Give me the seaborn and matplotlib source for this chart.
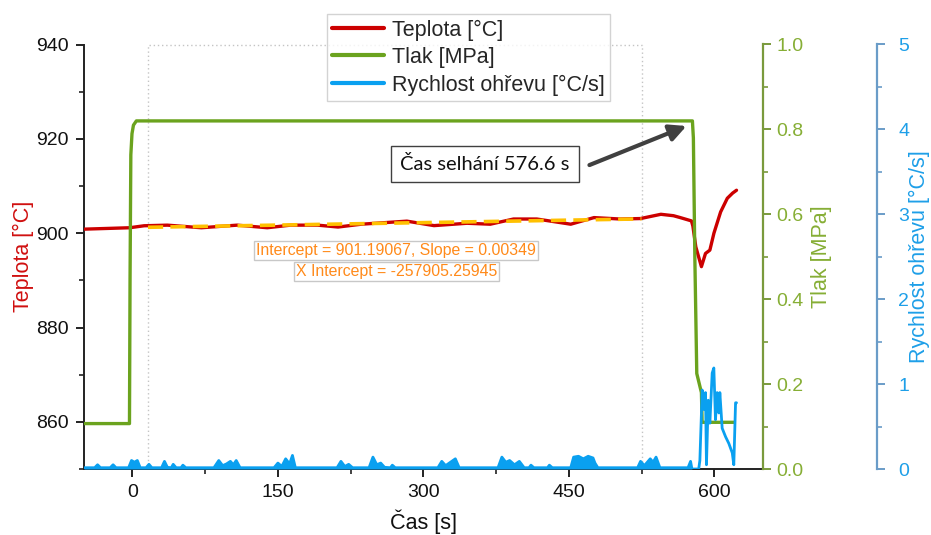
import numpy as np
import pandas as pd
import matplotlib
matplotlib.use("Agg")
import matplotlib.pyplot as plt
import seaborn as sns
from matplotlib.ticker import MultipleLocator

# ---------------- data ----------------
temp_t = [-50, -3, 12, 36, 71, 108, 139, 163, 191, 212, 236, 258, 283, 311, 345, 369,
          393, 417, 452, 476, 503, 524, 545, 558, 565, 576.5, 578, 581, 586.8, 591,
          595.5, 599.7, 606.6, 613.5, 619, 623]
temp_v = [900.85, 901.15, 901.57, 901.7, 901.15, 901.7, 901.15, 901.7, 901.7, 901.3,
          901.9, 902.2, 902.55, 901.6, 902.1, 901.9, 903.0, 903.0, 901.9, 903.3, 903.0,
          903.1, 904.0, 903.7, 903.3, 902.6, 901.5, 897.1, 892.9, 895.7, 896.4, 900.0,
          904.5, 907.4, 908.5, 909.1]

press_t = [-50, -3.1, -2.5, -1.7, -0.5, 1, 4, 577.5, 578.5, 580, 582, 586.8, 587.5, 620.5]
press_v = [0.107, 0.107, 0.45, 0.74, 0.79, 0.81, 0.82, 0.82, 0.78, 0.50, 0.225, 0.18, 0.11, 0.11]

rate_t = [-50, -39, -36, -33, -23, -20, -17, -4, -1, 2, 5, 8, 10, 14, 17, 20, 30, 33, 36,
          40, 42, 45, 50, 52, 55, 84, 89, 93, 97, 101, 104, 107, 111, 146, 150, 154, 158,
          162, 165, 168, 211, 215, 219, 223, 227, 244, 248, 252, 256, 260, 266, 268, 271,
          315, 319, 323, 328, 333, 337, 377, 381, 385, 389, 394, 399, 404, 409, 411, 414,
          428, 430, 433, 452, 455, 460, 465, 470, 475, 477, 480, 521, 524, 528, 534, 537,
          540, 544, 573, 575.6, 577, 584, 585.2, 587.6, 589.3, 591, 592, 592.8, 593.8,
          595.5, 597.9, 599.6, 601.3, 603, 604.8, 605.8, 608.2, 611.7, 615.1, 618.6,
          620.2, 622, 623]
rate_v = [0.015, 0.015, 0.05, 0.015, 0.015, 0.05, 0.015, 0.015, 0.1, 0.08, 0.1, 0.015,
          0.015, 0.015, 0.055, 0.015, 0.015, 0.09, 0.02, 0.015, 0.055, 0.015, 0.015, 0.045,
          0.015, 0.015, 0.1, 0.04, 0.06, 0.09, 0.05, 0.1, 0.015, 0.015, 0.07, 0.03, 0.12,
          0.06, 0.16, 0.015, 0.015, 0.09, 0.03, 0.055, 0.015, 0.015, 0.14, 0.05, 0.07, 0.02,
          0.015, 0.045, 0.015, 0.015, 0.09, 0.04, 0.08, 0.12, 0.015, 0.015, 0.14, 0.08, 0.1,
          0.05, 0.09, 0.015, 0.015, 0.045, 0.015, 0.015, 0.045, 0.015, 0.015, 0.14, 0.15,
          0.12, 0.15, 0.13, 0.07, 0.015, 0.015, 0.09, 0.04, 0.12, 0.08, 0.14, 0.015, 0.015,
          0.09, 0.0, 0.0, 0.1, 0.93, 0.7, 0.9, 0.05, 0.38, 0.81, 0.54, 1.13, 1.19, 0.58,
          0.9, 0.66, 0.9, 0.48, 0.38, 0.3, 0.19, 0.05, 0.78, 0.78]

fit_range = [16, 525]
fit_intercept = 901.19067
fit_slope = 0.00349
fail_time = 576.6

x_ticks = [0, 150, 300, 450, 600]
temp_ticks = [860, 880, 900, 920, 940]
press_ticks = [0.0, 0.2, 0.4, 0.6, 0.8, 1.0]
rate_ticks = [0, 1, 2, 3, 4, 5]

# ---------------- style ----------------
sns.set_style("ticks")
plt.rcParams['font.family'] = ['Liberation Sans', 'DejaVu Sans']

RED = '#CC0000'
GREEN = '#6BA31E'
BLUE = '#0AA0F0'
ORANGE_LINE = '#FFC000'
ORANGE_TXT = '#FF8A1A'
GREEN_AX = '#7A9A3C'
GREEN_LBL = '#86AE35'
BLUE_AX = '#6A9CC8'
BLUE_LBL = '#1E9FE8'
TICK_FS = 14
LABEL_FS = 15.5

fig = plt.figure(figsize=(9.31, 5.35), dpi=100)
ax = fig.add_axes([84/931, 1-469/535, (762.7-84)/931, (469-44.5)/535])
ax2 = ax.twinx()
ax3 = ax.twinx()
ax3.spines['right'].set_position(('axes', (877.3-84)/(762.7-84)))

df_t = pd.DataFrame({'t': temp_t, 'v': temp_v})
df_p = pd.DataFrame({'t': press_t, 'v': press_v})
df_r = pd.DataFrame({'t': rate_t, 'v': rate_v})

# dotted fit-range rectangle
ax.plot([fit_range[0], fit_range[0], fit_range[1], fit_range[1]], [850, 940, 940, 850],
        ls=(0, (1, 2)), color='#C4C4C4', lw=1.0, zorder=1, clip_on=False)

sns.lineplot(data=df_t, x='t', y='v', ax=ax, color=RED, lw=2.4, estimator=None,
             sort=False, zorder=3, legend=False)
fit_x = np.array(fit_range, dtype=float)
sns.lineplot(x=fit_x, y=fit_intercept + fit_slope * fit_x, ax=ax, color=ORANGE_LINE,
             lw=2.6, estimator=None, zorder=4, legend=False)
ax.lines[-1].set_dashes([4.2, 2.0])

sns.lineplot(data=df_p, x='t', y='v', ax=ax2, color=GREEN, lw=2.4, estimator=None,
             sort=False, legend=False)
sns.lineplot(data=df_r, x='t', y='v', ax=ax3, color=BLUE, lw=2.0, estimator=None,
             sort=False, legend=False)
base = df_r[df_r['t'] < 580]
ax3.fill_between(base['t'], 0, base['v'], color=BLUE, lw=0)

# limits & ticks
ax.set_xlim(-50, 650)
ax.set_ylim(850, 940)
ax2.set_ylim(0, 1.0)
ax3.set_ylim(0, 5)
ax.set_xticks(x_ticks)
ax.xaxis.set_minor_locator(MultipleLocator(75))
ax.set_yticks(temp_ticks)
ax.yaxis.set_minor_locator(MultipleLocator(10))
ax2.set_yticks(press_ticks)
ax2.set_yticklabels([f"{v:.1f}" for v in press_ticks])
ax2.yaxis.set_minor_locator(MultipleLocator(0.1))
ax3.set_yticks(rate_ticks)
ax3.yaxis.set_minor_locator(MultipleLocator(0.5))

for a in (ax, ax2, ax3):
    a.spines['top'].set_visible(False)
ax.spines['right'].set_visible(False)
for a in (ax2, ax3):
    a.spines['left'].set_visible(False)
    a.spines['bottom'].set_visible(False)

for s in ('left', 'bottom'):
    ax.spines[s].set_color('#222222')
    ax.spines[s].set_linewidth(1.4)
ax.tick_params(axis='both', which='major', length=6, width=1.4, color='#222222',
               labelsize=TICK_FS, labelcolor='#111111', pad=5)
ax.tick_params(axis='both', which='minor', length=3.5, width=1.2, color='#222222')

ax2.spines['right'].set_color(GREEN_AX)
ax2.spines['right'].set_linewidth(1.6)
ax2.tick_params(axis='y', which='major', length=6, width=1.4, color=GREEN_AX,
                labelsize=TICK_FS, labelcolor=GREEN_LBL, pad=4)
ax2.tick_params(axis='y', which='minor', length=3.5, width=1.2, color=GREEN_AX)

ax3.spines['right'].set_color(BLUE_AX)
ax3.spines['right'].set_linewidth(1.6)
ax3.tick_params(axis='y', which='major', length=6, width=1.4, color=BLUE_AX,
                labelsize=TICK_FS, labelcolor=BLUE_LBL, pad=9)
ax3.tick_params(axis='y', which='minor', length=3.5, width=1.2, color=BLUE_AX)

ax.set_xlabel('Čas [s]', fontsize=LABEL_FS, color='#111111', labelpad=6)
ax.set_ylabel('Teplota [°C]', fontsize=LABEL_FS, color='#D01010', labelpad=1.5)
ax2.set_ylabel('Tlak [MPa]', fontsize=LABEL_FS, color=GREEN_LBL, labelpad=5)
ax3.set_ylabel('Rychlost ohřevu [°C/s]', fontsize=LABEL_FS, color=BLUE_LBL, labelpad=0)

# fit annotation
ax.text(272, 896.3, f"Intercept = {fit_intercept:.5f}, Slope = {fit_slope:.5f}",
        ha='center', va='center', fontsize=11.4, color=ORANGE_TXT, zorder=6,
        bbox=dict(boxstyle='square,pad=0.12', fc='white', ec='#C8C8C8', lw=1))
ax.text(272, 891.9, "X Intercept = -257905.25945",
        ha='center', va='center', fontsize=11.4, color=ORANGE_TXT, zorder=6,
        bbox=dict(boxstyle='square,pad=0.12', fc='white', ec='#C8C8C8', lw=1))

# failure annotation (on top axes)
ax3.text(363.5, 3.59, f"Čas selhání {fail_time} s", ha='center', va='center',
         fontsize=14.5, family=['Lato', 'DejaVu Sans'], color='#111111', zorder=10,
         bbox=dict(boxstyle='square,pad=0.45', fc='white', ec='#404040', lw=1))
ax3.annotate("", xy=(571.4, 4.04), xytext=(471.3, 3.58),
             xycoords='data', textcoords='data',
             arrowprops=dict(arrowstyle='-|>,head_length=1.0,head_width=0.5',
                             color='#404040', lw=3, shrinkA=0, shrinkB=0),
             zorder=10)

# legend
handles = [ax.lines[1], ax2.lines[0], ax3.lines[0]]
labels = ['Teplota [°C]', 'Tlak [MPa]', 'Rychlost ohřevu [°C/s]']
leg = fig.legend(handles, labels, loc='upper left', bbox_to_anchor=(327/931, 1-14/535),
                 frameon=True, fancybox=False, fontsize=15.5, handlelength=2.4,
                 handletextpad=0.35, labelspacing=0.3, borderpad=0.25,
                 borderaxespad=0)
leg.get_frame().set_edgecolor('#C8C8C8')
leg.get_frame().set_linewidth(1.0)
for line in leg.get_lines():
    line.set_linewidth(3)

fig.savefig('out.png', dpi=100)
